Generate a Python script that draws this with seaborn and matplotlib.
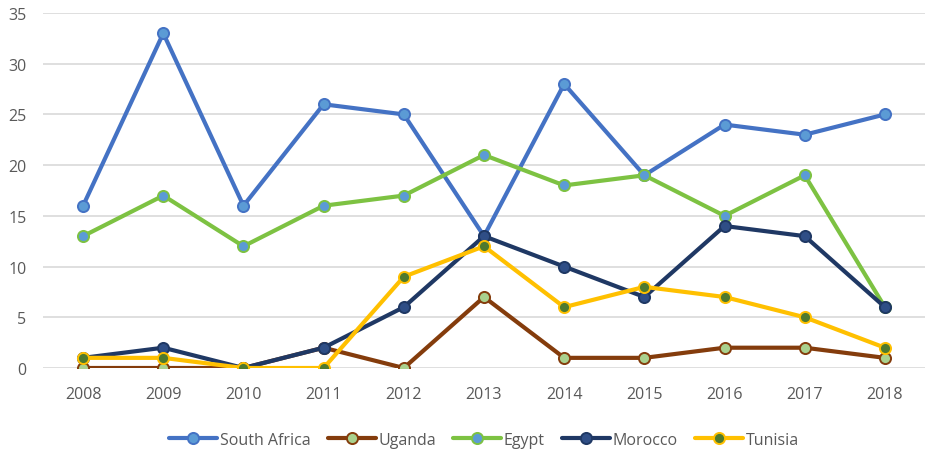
import matplotlib
matplotlib.use("Agg")
import matplotlib.pyplot as plt
import seaborn as sns
import pandas as pd

years = [2008, 2009, 2010, 2011, 2012, 2013, 2014, 2015, 2016, 2017, 2018]
south_africa = [16, 33, 16, 26, 25, 13, 28, 19, 24, 23, 25]
uganda = [0, 0, 0, 2, 0, 7, 1, 1, 2, 2, 1]
egypt = [13, 17, 12, 16, 17, 21, 18, 19, 15, 19, 6]
morocco = [1, 2, 0, 2, 6, 13, 10, 7, 14, 13, 6]
tunisia = [1, 1, 0, 0, 9, 12, 6, 8, 7, 5, 2]

series_names = ["South Africa", "Uganda", "Egypt", "Morocco", "Tunisia"]
series_values = [south_africa, uganda, egypt, morocco, tunisia]
line_colors = ["#4472C4", "#843C0C", "#7DC242", "#1F3864", "#FFC000"]
face_colors = ["#5B9BD5", "#A9D18E", "#5B9BD5", "#2F4E86", "#4E7A2E"]

sns.set_theme(style="white")
plt.rcParams['font.family'] = ['Open Sans', 'DejaVu Sans']

rows = []
for name, vals in zip(series_names, series_values):
    for y, v in zip(years, vals):
        rows.append({"year": y, "value": v, "country": name})
df = pd.DataFrame(rows)

fig = plt.figure(figsize=(9.35, 4.52), dpi=100)
ax = fig.add_axes([43/935, 1-369/452, (925-43)/935, (369-14)/452])

for i, (name, lc, fc) in enumerate(zip(series_names, line_colors, face_colors)):
    sub = df[df["country"] == name]
    sns.lineplot(data=sub, x="year", y="value", ax=ax, color=lc, linewidth=3.0,
                 marker="o", markersize=8, markerfacecolor=fc, markeredgecolor=lc,
                 markeredgewidth=1.4, label=name, zorder=3 + i)

ax.set_xlim(2007.5, 2018.5)
ax.set_ylim(0, 35)
ax.set_xticks(years)
ax.set_xticklabels([str(y) for y in years])
ax.set_yticks(range(0, 36, 5))
ax.grid(axis="y", color="#D9D9D9", linewidth=1.2)
ax.set_axisbelow(True)
for s in ax.spines.values():
    s.set_visible(False)
ax.tick_params(axis="both", length=0, labelsize=11.5, colors="#595959")
ax.tick_params(axis="x", pad=13)
ax.tick_params(axis="y", pad=12)
ax.set_xlabel("")
ax.set_ylabel("")

leg = ax.legend(loc="upper center", bbox_to_anchor=(0.5, -0.14), ncol=5, frameon=False,
                fontsize=11.5, handlelength=3.0, columnspacing=1.1, handletextpad=0.15)
for t in leg.get_texts():
    t.set_color("#595959")

fig.savefig("out.png", dpi=100)
